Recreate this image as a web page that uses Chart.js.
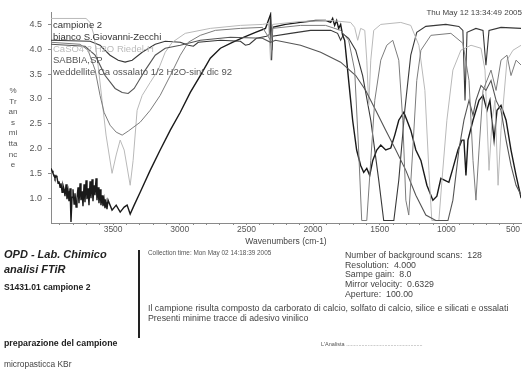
<!DOCTYPE html>
<html>
<head>
<meta charset="utf-8">
<script src="https://cdn.jsdelivr.net/npm/chart.js@4.4.1/dist/chart.umd.min.js"></script>
<style>
  body { margin: 0; background: #fff; font-family: "Liberation Sans", Arial, sans-serif; }
  #page { position: relative; width: 526px; height: 374px; overflow: hidden; }
  #wrap { position: absolute; left: 0; top: 0; width: 526px; height: 255px; }
  .t { position: absolute; white-space: nowrap; color: #333; line-height: 1; }
  .leg { font-size: 9.5px; left: 53px; }
  .info { font-size: 8.8px; color: #444; }
  #ytitle { position: absolute; left: 4px; top: 86px; width: 18px; text-align: center; font-size: 8px; line-height: 10.6px; color: #555; }
  #bar { position: absolute; left: 138px; top: 250px; width: 2px; height: 88px; background: #222; }
</style>
</head>
<body>
<div id="page">
  <div id="wrap"><canvas id="c"></canvas></div>
  <div id="ytitle">%<br>Tr<br>an<br>s<br>mi<br>tta<br>nc<br>e</div>
  <div id="legend"></div>
  <div class="t" style="right:4px;top:9px;font-size:8px;color:#444;">Thu May 12 13:34:49 2005</div>

  <div class="t" style="left:4px;top:249px;font-size:11px;font-weight:bold;font-style:italic;color:#222;">OPD - Lab. Chimico</div>
  <div class="t" style="left:4px;top:264px;font-size:11px;font-weight:bold;font-style:italic;color:#222;">analisi FTiR</div>
  <div class="t" style="left:4px;top:283px;font-size:8.6px;font-weight:bold;color:#222;">S1431.01 campione 2</div>
  <div id="bar"></div>
  <div class="t" style="left:4px;top:339px;font-size:8.8px;font-weight:bold;color:#222;">preparazione del campione</div>
  <div class="t" style="left:4px;top:360px;font-size:8.4px;color:#444;">micropasticca KBr</div>

  <div class="t" style="left:148px;top:250px;font-size:6.4px;color:#555;">Collection time: Mon May 02 14:18:39 2005</div>
  <div class="t info" style="left:345px;top:251px;">Number of background scans:&nbsp; 128</div>
  <div class="t info" style="left:345px;top:261px;">Resolution:&nbsp; 4.000</div>
  <div class="t info" style="left:345px;top:270px;">Sampe gain:&nbsp; 8.0</div>
  <div class="t info" style="left:345px;top:280px;">Mirror velocity:&nbsp; 0.6329</div>
  <div class="t info" style="left:345px;top:290px;">Aperture:&nbsp; 100.00</div>
  <div class="t info" style="left:148px;top:304px;">Il campione risulta composto da carborato di calcio, solfato di calcio, silice e silicati e ossalati</div>
  <div class="t info" style="left:148px;top:314px;">Presenti minime tracce di adesivo vinilico</div>
  <div class="t" style="left:321px;top:342px;font-size:5.5px;color:#555;">L'Analista ..................................................</div>
</div>

<script>
// series names (legend, top-left inside the plot)
const seriesNames = ['campione 2', 'bianco S.Giovanni-Zecchi', 'CaSO4 2 H2O    Riedel-H', 'SABBIA,SP', 'weddellite Ca ossalato 1/2 H2O-sint dic 92'];
const seriesColors = ['#1a1a1a', '#383838', '#b9b9b9', '#555555', '#7c7c7c'];
const legendColors = ['#333', '#333', '#bbb', '#555', '#555'];

// axis ticks
const xTickLabels = [3500, 3000, 2500, 2000, 1500, 1000, 500];
const yTickLabels = [1.0, 1.5, 2.0, 2.5, 3.0, 3.5, 4.0, 4.5];

// campione 2 (noisy at high wavenumbers)
const campioneWn = [3966,3958,3951,3943,3936,3928,3921,3913,3906,3898,3891,3883,3876,3868,3861,3853,3846,3838,3831,3823,3816,3808,3801,3793,3786,3778,3771,3763,3756,3748,3741,3733,3726,3718,3711,3703,3696,3688,3681,3673,3666,3658,3651,3643,3636,3628,3621,3613,3606,3598,3591,3583,3576,3568,3561,3553,3546,3538,
  3508,3477,3447,3417,3395,3372,3342,3297,3222,3147,3071,2996,2921,2846,2771,2695,2605,2522,2432,2357,2319,2311,2304,2207,2094,1981,1906,1868,1853,1838,1823,1808,1793,1778,1763,1748,1733,1718,1703,1673,1643,1620,1597,1575,1552,1522,1492,1455,1417,1387,1357,1319,1267,1229,1191,1146,1101,1071,1041,1011,981,951,913,883,868,853,838,800,755,725,695,673,642,620,590,552,515,477,439];
const campioneT = [1.60,1.55,1.50,1.46,1.40,1.45,1.42,1.30,1.34,1.22,1.30,1.12,1.26,1.18,1.04,1.28,0.98,1.14,0.94,1.20,0.52,1.02,1.18,0.88,1.10,0.82,1.00,1.22,0.90,1.30,0.96,1.14,0.84,1.28,0.92,1.36,0.98,1.20,0.86,1.34,1.00,1.38,0.94,1.26,1.06,1.40,0.96,1.22,0.90,1.18,0.86,1.06,0.84,0.98,0.80,0.92,0.78,0.96,
  0.76,0.86,0.72,0.82,0.86,0.68,0.86,1.12,1.56,1.97,2.37,2.73,3.13,3.47,3.82,4.02,4.14,4.24,4.34,4.42,4.70,3.98,4.44,4.50,4.54,4.58,4.58,4.54,4.62,4.48,4.58,4.42,4.50,4.28,4.18,3.78,3.37,2.97,2.57,1.97,1.66,1.52,1.60,1.46,1.76,1.97,2.07,1.97,2.01,2.27,2.57,2.73,2.37,1.97,1.76,1.26,0.96,1.04,1.40,1.36,1.32,1.60,1.97,2.17,2.17,1.46,2.17,2.57,2.97,3.07,2.77,2.97,2.17,2.77,2.87,2.57,1.97,1.46,1.00];

// bianco S.Giovanni-Zecchi
const biancoWn = [3966,3673,3598,3523,3462,3410,3357,3282,3184,3109,2996,2936,2898,2861,2695,2545,2507,2477,2425,2349,2327,2319,2311,2304,2169,2019,1868,1816,1793,1771,1733,1680,1628,1567,1507,1470,1394,1357,1312,1267,1222,1154,1004,906,876,860,845,778,725,703,680,590,439];
const biancoT = [4.18,4.16,4.08,3.88,3.78,3.74,3.78,3.94,4.10,4.16,4.14,4.08,4.06,4.14,4.18,4.16,4.08,4.10,4.22,4.26,4.30,4.65,3.78,4.26,4.32,4.38,4.38,4.32,4.18,4.30,4.22,3.98,3.47,2.57,1.36,0.55,0.55,1.36,2.77,3.88,4.34,4.46,4.50,4.46,4.38,2.97,4.34,4.42,4.38,3.68,4.38,4.44,4.42];

// CaSO4 2 H2O Riedel-H
const gessoWn = [3966,3703,3673,3643,3613,3583,3553,3508,3477,3447,3417,3372,3350,3320,3282,3222,3162,3109,3056,2959,2771,2545,2380,2334,2319,2304,2094,1868,1718,1688,1665,1643,1612,1597,1582,1567,1545,1492,1342,1267,1206,1161,1131,1109,1056,1033,996,951,891,815,740,710,680,657,635,612,590,545,500,439];
const gessoT = [4.62,4.62,4.54,4.28,3.68,2.97,2.27,1.50,1.87,2.17,1.97,1.26,1.76,2.77,3.07,3.33,3.58,3.94,4.14,4.32,4.42,4.48,4.50,4.52,3.78,4.50,4.56,4.58,4.54,4.44,4.18,4.42,4.38,3.78,2.87,3.78,4.38,4.50,4.54,4.48,4.08,3.17,1.56,0.55,0.55,1.36,2.57,3.58,3.98,4.08,4.02,3.58,1.56,2.57,2.97,1.26,2.37,3.78,3.98,4.08];

// SABBIA,SP
const sabbiaWn = [3966,3711,3635,3560,3485,3432,3387,3342,3259,3184,3109,2996,2846,2620,2380,2319,2282,2094,1943,1793,1680,1605,1530,1455,1379,1304,1229,1154,1079,988,951,906,868,830,800,778,740,703,665,627,590,552,515,477,439];
const sabbiaT = [4.10,4.06,3.88,3.47,3.21,3.13,3.11,3.21,3.58,3.88,4.02,4.08,4.18,4.24,4.22,4.14,4.18,4.08,3.94,3.74,3.47,3.17,2.77,2.37,1.97,1.56,1.06,0.66,0.55,0.55,0.96,1.97,2.57,2.97,2.67,2.97,3.27,3.17,3.37,2.97,2.77,2.17,1.66,1.26,1.06];

// weddellite Ca ossalato
const weddelliteWn = [3966,3748,3688,3635,3598,3568,3523,3477,3432,3387,3297,3222,3147,3071,2996,2936,2846,2733,2545,2380,2319,2304,2094,1906,1793,1733,1688,1658,1635,1597,1567,1537,1492,1447,1402,1357,1327,1304,1282,1252,1222,1191,1116,966,876,830,800,778,755,725,665,627,590,545,515,477,439];
const weddelliteT = [4.14,4.10,3.98,3.58,3.07,2.73,2.47,2.33,2.27,2.35,2.53,2.77,3.07,3.47,3.88,4.14,4.28,4.38,4.42,4.44,4.18,4.42,4.48,4.48,4.38,4.18,3.58,1.97,0.55,0.55,1.76,2.97,3.78,4.08,4.18,3.78,2.57,0.96,0.66,1.97,3.37,3.98,4.28,4.32,4.12,3.37,1.76,0.96,1.97,3.17,3.58,3.17,3.78,3.88,3.47,3.78,3.68];

const spectra = [
  [campioneWn, campioneT, 1.4],
  [biancoWn, biancoT, 1.1],
  [gessoWn, gessoT, 1],
  [sabbiaWn, sabbiaT, 1.1],
  [weddelliteWn, weddelliteT, 1]
];

// legend text
const legendBox = document.getElementById('legend');
const legendRows = [25, 37, 48.5, 60, 71.5];
seriesNames.forEach((name, i) => {
  const d = document.createElement('div');
  d.className = 't leg';
  d.style.top = (legendRows[i] - 4.7) + 'px';
  d.style.color = legendColors[i];
  d.textContent = name;
  legendBox.appendChild(d);
});

const axisColor = '#8a8a8a';
const tickFont = { family: '"Liberation Sans", Arial, sans-serif', size: 9 };

new Chart(document.getElementById('c'), {
  type: 'scatter',
  data: {
    datasets: spectra.map(([wn, t, w], i) => ({
      label: seriesNames[i],
      data: wn.map((x, k) => ({ x: x, y: t[k] })),
      showLine: true,
      borderColor: seriesColors[i],
      borderWidth: w,
      pointRadius: 0,
      tension: 0
    })).reverse()
  },
  options: {
    responsive: true,
    maintainAspectRatio: false,
    animation: false,
    layout: { padding: { top: 12, right: 5, left: 0, bottom: 0 } },
    plugins: { legend: { display: false }, tooltip: { enabled: false } },
    scales: {
      x: {
        type: 'linear',
        reverse: true,
        min: 440,
        max: 3966,
        afterFit: s => { s.height = 32; },
        afterBuildTicks: s => {
          const ticks = [];
          for (let v = 500; v <= 3900; v += 100) ticks.push({ value: v });
          s.ticks = ticks;
        },
        ticks: {
          autoSkip: false,
          maxRotation: 0,
          padding: 0,
          color: '#555',
          font: { family: tickFont.family, size: 8.5 },
          callback: v => xTickLabels.includes(v) ? String(v) : ''
        },
        grid: { drawOnChartArea: false, tickLength: 2, color: axisColor },
        border: { color: axisColor },
        title: {
          display: true,
          text: 'Wavenumbers (cm-1)',
          color: '#444',
          font: { family: tickFont.family, size: 8.5 },
          padding: { top: 0, bottom: 8 }
        }
      },
      y: {
        min: 0.5,
        max: 4.75,
        afterFit: s => { s.width = 51; },
        afterBuildTicks: s => { s.ticks = yTickLabels.map(v => ({ value: v })); },
        ticks: {
          padding: 6,
          color: '#555',
          font: tickFont,
          callback: v => v.toFixed(1)
        },
        grid: { drawOnChartArea: false, tickLength: 3, color: axisColor },
        border: { color: axisColor }
      }
    }
  }
});
</script>
</body>
</html>
